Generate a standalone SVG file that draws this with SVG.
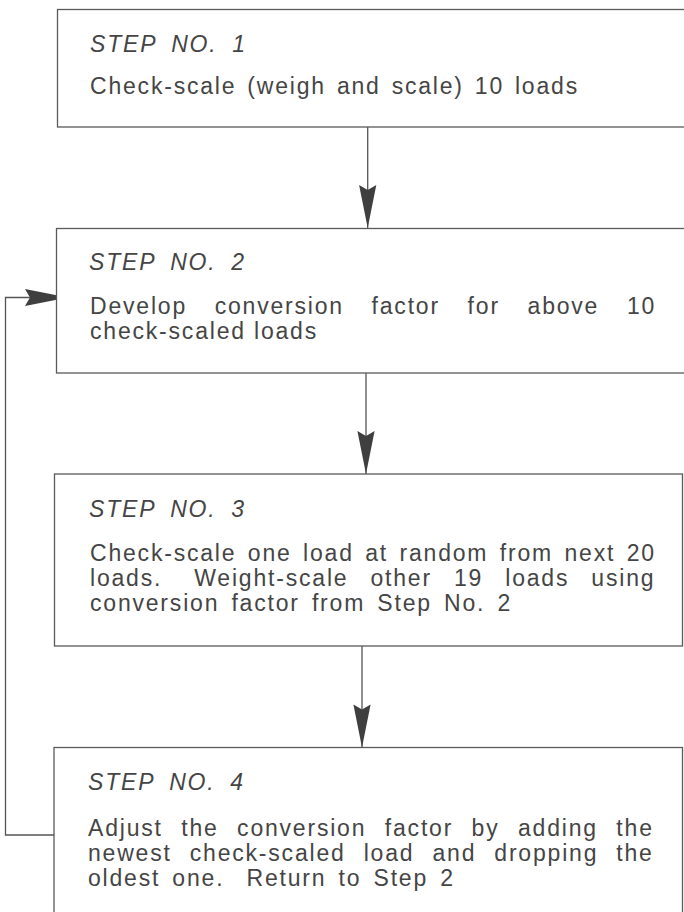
<svg xmlns="http://www.w3.org/2000/svg" width="684" height="912" viewBox="0 0 684 912">
  <style>
    .box { fill: #ffffff; stroke: #5a5a5a; stroke-width: 1.3; }
    .t { font-family: "Liberation Sans", Arial, Helvetica, sans-serif; font-size: 23px; fill: #454545; letter-spacing: 1.8px; }
    .h { font-style: italic; word-spacing: 6.6px; }
    .edge { fill: none; stroke: #555555; stroke-width: 1.3; }
  </style>
  <defs>
    <marker id="dart" viewBox="-45 -10 47 20" markerWidth="47" markerHeight="20" refX="0" refY="0" orient="auto" markerUnits="userSpaceOnUse">
      <path d="M0,0 L-43,-8.6 L-38,0 L-43,8.6 Z" fill="#3f3f3f"/>
    </marker>
  </defs>
  <rect x="0" y="0" width="684" height="912" fill="#ffffff"/>

  <g id="connectors">
    <line class="edge" x1="367.7" y1="127" x2="367.7" y2="228" marker-end="url(#dart)"/>
    <line class="edge" x1="366" y1="373" x2="366" y2="474" marker-end="url(#dart)"/>
    <line class="edge" x1="362" y1="646" x2="362" y2="747.5" marker-end="url(#dart)"/>
    <polyline class="edge" points="54,835 5.5,835 5.5,297.5 68,297.5" marker-end="url(#dart)"/>
  </g>

  <g id="node1">
    <rect class="box" x="57.5" y="9.5" width="640" height="117.5"/>
    <text class="t h" x="90" y="52">STEP NO. 1</text>
    <text class="t" x="90" y="94" word-spacing="2.8">Check-scale (weigh and scale) 10 loads</text>
  </g>

  <g id="node2">
    <rect class="box" x="56.5" y="228.5" width="640" height="144.5"/>
    <text class="t h" x="89" y="270">STEP NO. 2</text>
    <text class="t" x="90" y="314" word-spacing="19.5">Develop conversion factor for above 10</text>
    <text class="t" x="90" y="339">check-scaled loads</text>
  </g>

  <g id="node3">
    <rect class="box" x="54.5" y="474" width="628" height="172"/>
    <text class="t h" x="89" y="517">STEP NO. 3</text>
    <text class="t" x="90" y="561" word-spacing="3.3">Check-scale one load at random from next 20</text>
    <text class="t" x="90" y="586" word-spacing="13.9">loads. <tspan dx="10">Weight-scale other 19 loads using</tspan></text>
    <text class="t" x="90" y="611" word-spacing="4">conversion factor from Step No. 2</text>
  </g>

  <g id="node4">
    <rect class="box" x="54" y="747.5" width="628.5" height="180"/>
    <text class="t h" x="88" y="790">STEP NO. 4</text>
    <text class="t" x="88" y="836" word-spacing="10.3">Adjust the conversion factor by adding the</text>
    <text class="t" x="88" y="861" word-spacing="9.9">newest check-scaled load and dropping the</text>
    <text class="t" x="88" y="886" word-spacing="4">oldest one. <tspan dx="10">Return to Step 2</tspan></text>
  </g>
</svg>
